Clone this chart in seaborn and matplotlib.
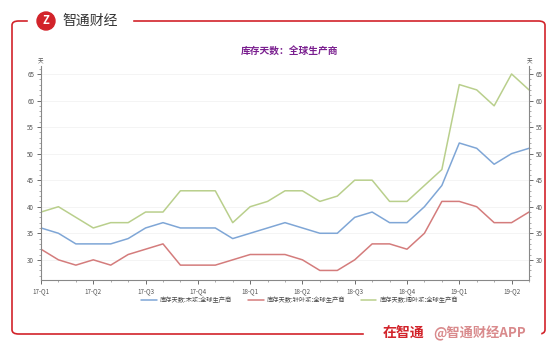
import matplotlib
matplotlib.use("Agg")
import matplotlib.pyplot as plt
import seaborn as sns
import pandas as pd
import numpy as np
from matplotlib.patches import FancyBboxPatch, Ellipse
from matplotlib.ticker import MultipleLocator, FixedLocator

sns.set_theme(style="white")
plt.rcParams['font.family'] = ['Noto Sans CJK SC', 'DejaVu Sans']
plt.rcParams['axes.unicode_minus'] = False

months = list(range(29))  # Jan 2017 .. May 2019, monthly
quarter_labels = ["17-Q1", "17-Q2", "17-Q3", "17-Q4", "18-Q1", "18-Q2", "18-Q3", "18-Q4", "19-Q1", "19-Q2"]
series_names = ["库存天数:木浆:全球生产商", "库存天数:针叶浆:全球生产商", "库存天数:阔叶浆:全球生产商"]
wood_pulp = [36, 35, 33, 33, 33, 34, 36, 37, 36, 36, 36, 34, 35, 36, 37,
             36, 35, 35, 38, 39, 37, 37, 40, 44, 52, 51, 48, 50, 51]
softwood = [32, 30, 29, 30, 29, 31, 32, 33, 29, 29, 29, 30, 31, 31, 31,
            30, 28, 28, 30, 33, 33, 32, 35, 41, 41, 40, 37, 37, 39]
hardwood = [39, 40, 38, 36, 37, 37, 39, 39, 43, 43, 43, 37, 40, 41, 43,
            43, 41, 42, 45, 45, 41, 41, 44, 47, 63, 62, 59, 65, 62]
title = "库存天数：全球生产商"
colors = ["#7FA6D6", "#D47C7C", "#B9CF8C"]

df = pd.concat([
    pd.DataFrame({"month": months, "value": vals, "series": name})
    for name, vals in zip(series_names, [wood_pulp, softwood, hardwood])
])

fig = plt.figure(figsize=(5.54, 3.5), dpi=100)
fig.patch.set_facecolor("white")

ax = fig.add_axes([41/554, 1-280/350, (529-41)/554, (280-66)/350])
sns.lineplot(data=df, x="month", y="value", hue="series", palette=colors,
             ax=ax, linewidth=1.1, legend=True)

ax.set_xlim(0, 28)
ax.set_ylim(26.2, 66.5)
ax.set_xlabel("")
ax.set_ylabel("")
ax.xaxis.set_major_locator(FixedLocator(list(range(0, 28, 3))))
ax.set_xticklabels(quarter_labels)
ax.xaxis.set_minor_locator(MultipleLocator(1))
ax.yaxis.set_major_locator(MultipleLocator(5))
ax.yaxis.set_minor_locator(MultipleLocator(1))
ax.grid(axis="y", which="major", color="#F2F2F2", linewidth=0.6)
ax.spines["top"].set_visible(False)
for s in ["left", "right", "bottom"]:
    ax.spines[s].set_color("#888888")
    ax.spines[s].set_linewidth(0.8)
ax.tick_params(axis="both", which="major", labelsize=4.5, colors="#555555",
               length=3, width=0.6, direction="out", pad=2)
ax.tick_params(axis="both", which="minor", length=1.5, width=0.5, color="#888888")
ax.tick_params(axis="y", which="both", left=True, right=True, labelleft=True, labelright=True)
ax.tick_params(axis="x", which="both", bottom=True)

leg = ax.legend(loc="upper center", bbox_to_anchor=(0.53, -0.05), ncol=3, frameon=False,
                fontsize=4.5, handlelength=2.5, columnspacing=2.5, handletextpad=0.5)
for t in leg.get_texts():
    t.set_color("#444444")

fig.text(0.073, 1-64/350, "天", fontsize=4, color="#555555", ha="center", va="bottom")
fig.text(0.955, 1-64/350, "天", fontsize=4, color="#555555", ha="center", va="bottom")

fig.text(290/554, 1-51/350, title, fontsize=7, fontweight="bold", color="#7A1F8F",
         ha="center", va="center")

# Frame
red = "#D2232A"
fig.add_artist(FancyBboxPatch((12/554, 1-334/350), (545-12)/554, (334-21)/350,
                              boxstyle="round,pad=0,rounding_size=0.012",
                              transform=fig.transFigure, fill=False,
                              edgecolor=red, linewidth=1.2))
fig.add_artist(plt.Rectangle((28/554, 1-27/350), (132-28)/554, 14/350,
                             transform=fig.transFigure, color="white", zorder=3))
fig.add_artist(plt.Rectangle((364/554, 1-340/350), (540-364)/554, 14/350,
                             transform=fig.transFigure, color="white", zorder=3))
fig.add_artist(Ellipse((46/554, 1-21/350), 18/554, 18/350, transform=fig.transFigure,
                       color=red, zorder=4))
fig.text(46/554, 1-21/350, "Z", fontsize=8, fontweight="bold", color="white",
         ha="center", va="center", zorder=5, fontstyle="italic")
fig.text(62/554, 1-21/350, "智通财经", fontsize=10, color="#333333",
         ha="left", va="center", zorder=5)
fig.text(383/554, 1-333/350, "在智通", fontsize=10, fontweight="bold",
         color=red, ha="left", va="center", zorder=5)
fig.text(433/554, 1-333/350, "@智通财经APP", fontsize=9.5, fontweight="bold",
         color="#D98A8C", ha="left", va="center", zorder=6)

fig.savefig("out.png", dpi=100, facecolor="white")
